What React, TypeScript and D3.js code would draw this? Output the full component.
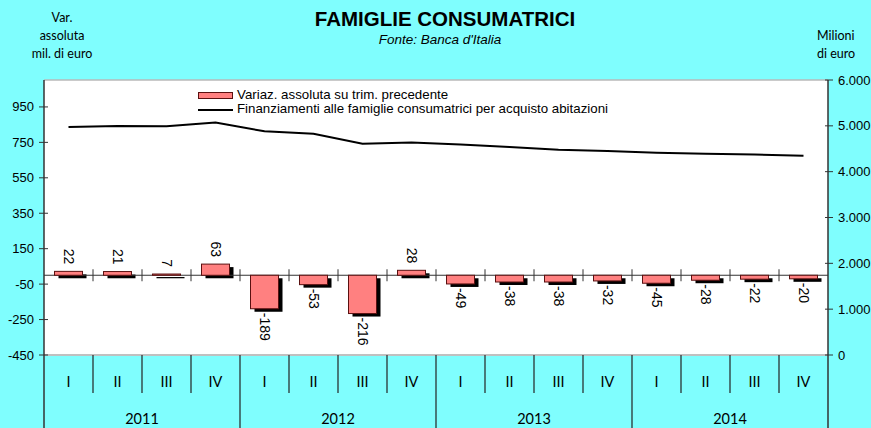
import React from "react";
import * as d3 from "d3";

const W = 871;
const H = 428;

const years = ["2011", "2012", "2013", "2014"];
const quarters = ["I", "II", "III", "IV"];
const variazione = [22, 21, 7, 63, -189, -53, -216, 28, -49, -38, -38, -32, -45, -28, -22, -20];
const finanziamenti = [4974, 4996, 4990, 5070, 4880, 4829, 4610, 4639, 4595, 4536, 4479, 4449, 4413, 4391, 4376, 4347];
const leftTicks = [-450, -250, -50, 150, 350, 550, 750, 950];
const rightTicks = [0, 1000, 2000, 3000, 4000, 5000, 6000];
const legendLabels = [
  "Variaz. assoluta su trim. precedente",
  "Finanziamenti alle famiglie consumatrici per acquisto abitazioni",
];

const CYAN = "#7ffefe";
const PINK = "#ff8080";
const SANS = "'Liberation Sans', Arial, sans-serif";
const CAL = "Lato, 'Open Sans', sans-serif";

export default function App() {
  const left = 44;
  const right = 828;
  const top = 80;
  const bottom = 355;

  const cats = d3.range(variazione.length);
  const x = d3.scaleBand<number>().domain(cats).range([left, right]).paddingInner(0).paddingOuter(0);
  const bw = x.bandwidth();
  const barW = 28;
  const yL = d3.scaleLinear().domain([-450, 1102]).range([bottom, top]);
  const yR = d3.scaleLinear().domain([0, 6000]).range([bottom, top]);
  const y0 = yL(0);

  const line = d3
    .line<number>()
    .x((_, i) => (x(i) as number) + bw / 2)
    .y((d) => yR(d));

  const fmtR = (v: number) => (v === 0 ? "0" : d3.format(",")(v).replace(/,/g, "."));

  return (
    <svg
      width={W}
      height={H}
      style={{ position: "absolute", left: 0, top: 0, display: "block" }}
    >
      <rect x={0} y={0} width={W} height={H} fill={CYAN} />
      <rect x={left} y={top} width={right - left} height={bottom - top} fill="#ffffff" />
      <line x1={left} x2={right} y1={top} y2={top} stroke="#b8b8b8" strokeWidth={1.5} />
      <line x1={left} x2={right} y1={bottom} y2={bottom} stroke="#c0c0c0" strokeWidth={2} />

      {/* Title */}
      <text x={445} y={26} textAnchor="middle" fontFamily={SANS} fontWeight="bold" fontSize={20.5} fill="#000">
        FAMIGLIE CONSUMATRICI
      </text>
      <text x={440} y={44} textAnchor="middle" fontFamily={SANS} fontStyle="italic" fontSize={13.5} fill="#000">
        Fonte: Banca d'Italia
      </text>

      {/* Axis titles */}
      <g fontFamily={CAL} fontSize={12.5} fill="#000" textAnchor="middle">
        <text x={62} y={22}>Var.</text>
        <text x={62} y={40}>assoluta</text>
        <text x={62} y={58}>mil.  di euro</text>
      </g>
      <g fontFamily={CAL} fontSize={12.5} fill="#000">
        <text x={817} y={40}>Milioni</text>
        <text x={817} y={58}>di euro</text>
      </g>

      {/* Legend */}
      <rect x={198.5} y={92.5} width={34} height={6} fill={PINK} stroke="#5a1010" strokeWidth={1} />
      <line x1={198} x2={233} y1={110} y2={110} stroke="#000" strokeWidth={2} />
      <g fontFamily={SANS} fontSize={13.3} fill="#000">
        <text x={237} y={99}>{legendLabels[0]}</text>
        <text x={237} y={113}>{legendLabels[1]}</text>
      </g>

      {/* Bars shadows */}
      {variazione.map((v, i) => {
        const cx = (x(i) as number) + bw / 2;
        const y1 = Math.min(yL(v), y0);
        const h = Math.abs(yL(v) - y0);
        return <rect key={"s" + i} x={cx - barW / 2 + 4} y={y1 + 3} width={barW} height={Math.max(h, 1)} fill="#000" />;
      })}
      {/* Zero line */}
      <line x1={left} x2={right} y1={y0} y2={y0} stroke="#333" strokeWidth={1.2} />
      {cats.slice(1).map((i) => (
        <line key={"zt" + i} x1={x(i) as number} x2={x(i) as number} y1={y0 - 6} y2={y0 + 6} stroke="#333" strokeWidth={1} />
      ))}
      {/* Bars */}
      {variazione.map((v, i) => {
        const cx = (x(i) as number) + bw / 2;
        const y1 = Math.min(yL(v), y0);
        const h = Math.abs(yL(v) - y0);
        return (
          <rect key={"b" + i} x={cx - barW / 2} y={y1} width={barW} height={Math.max(h, 1)} fill={PINK} stroke="#5a1010" strokeWidth={1} />
        );
      })}
      {/* Bar labels */}
      {variazione.map((v, i) => {
        const cx = (x(i) as number) + bw / 2;
        const ly = v >= 0 ? yL(v) - 7 : yL(v) + 4;
        return (
          <text
            key={"l" + i}
            transform={`translate(${cx},${ly}) rotate(90)`}
            textAnchor={v >= 0 ? "end" : "start"}
            dominantBaseline="central"
            fontFamily={SANS}
            fontSize={14}
            fill="#000"
          >
            {v}
          </text>
        );
      })}

      {/* Line */}
      <path d={line(finanziamenti) || ""} fill="none" stroke="#000" strokeWidth={2} />

      {/* Left axis */}
      <line x1={left} x2={left} y1={top} y2={H} stroke="#333" strokeWidth={1.5} />
      {leftTicks.map((t) => (
        <g key={"lt" + t}>
          <line x1={left - 5} x2={left + 4} y1={yL(t)} y2={yL(t)} stroke="#333" strokeWidth={1} />
          <text x={34} y={yL(t)} dy="0.35em" textAnchor="end" fontFamily={SANS} fontSize={13} fill="#000">
            {t}
          </text>
        </g>
      ))}
      {/* Right axis */}
      <line x1={right} x2={right} y1={top} y2={H} stroke="#333" strokeWidth={1.5} />
      {rightTicks.map((t) => (
        <g key={"rt" + t}>
          <line x1={right - 3} x2={right + 5} y1={yR(t)} y2={yR(t)} stroke="#333" strokeWidth={1} />
          <text x={838} y={yR(t)} dy="0.35em" textAnchor="start" fontFamily={SANS} fontSize={13} fill="#000">
            {fmtR(t)}
          </text>
        </g>
      ))}

      {/* Category axis */}
      {cats.slice(1).map((i) => (
        <line
          key={"ct" + i}
          x1={x(i) as number}
          x2={x(i) as number}
          y1={bottom}
          y2={i % 4 === 0 ? H : 393}
          stroke="#222"
          strokeWidth={1.2}
        />
      ))}
      {cats.map((i) => (
        <text
          key={"q" + i}
          x={(x(i) as number) + bw / 2}
          y={387}
          textAnchor="middle"
          fontFamily={CAL}
          fontSize={14.5}
          fill="#000"
        >
          {quarters[i % 4]}
        </text>
      ))}
      {years.map((yr, k) => (
        <text
          key={"y" + yr}
          x={(x(k * 4) as number) + bw * 2}
          y={424}
          textAnchor="middle"
          fontFamily={CAL}
          fontSize={14.5}
          fill="#000"
        >
          {yr}
        </text>
      ))}
    </svg>
  );
}
